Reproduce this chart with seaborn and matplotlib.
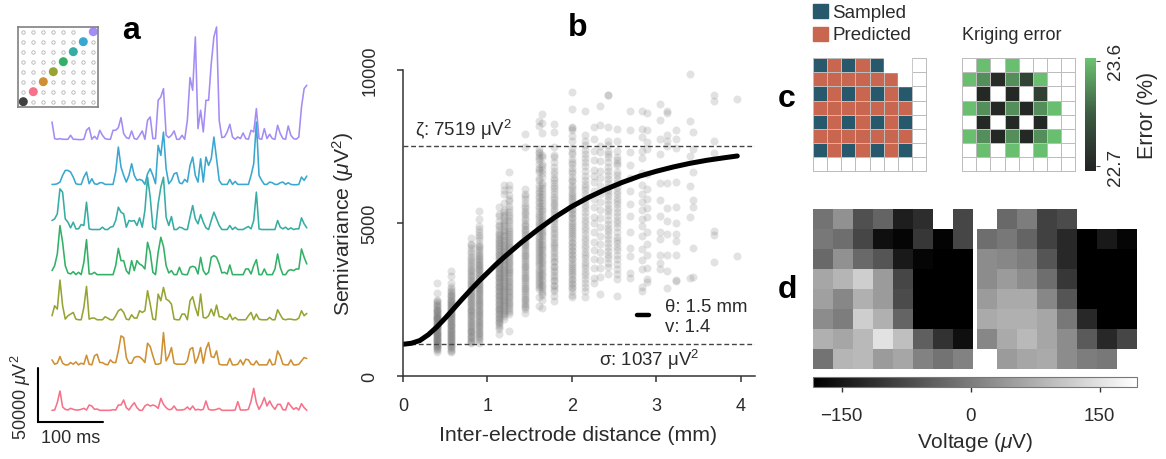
import numpy as np
import pandas as pd
import matplotlib.pyplot as plt
from matplotlib.colors import ListedColormap, LinearSegmentedColormap
from matplotlib.patches import Rectangle
import seaborn as sns

# --- panel a: power traces (one unit = 312.5 uV^2)
trace_unit = 312.5
trace_pink = [2,3,25,60,12,5,3,8,5,3,3,5,8,3,18,15,5,6,2,2,2,2,2,4,3,18,18,33,10,3,15,25,10,2,2,15,20,15,18,15,8,38,20,10,4,5,15,3,3,3,5,12,4,15,3,5,3,5,30,5,3,3,5,8,2,2,2,2,2,3,28,3,3,3,5,30,68,25,5,20,40,15,30,15,5,20,20,4,3,25,15,5,10,3,22,10,2]
trace_orange = [18,5,8,28,8,3,3,10,5,12,3,8,5,32,5,3,30,35,10,10,5,3,18,10,10,45,90,85,25,8,8,25,28,27,20,10,68,58,30,5,5,8,100,15,30,55,8,5,5,5,5,15,50,55,8,25,55,8,50,70,28,25,45,5,3,3,3,22,3,3,5,18,3,20,18,5,3,15,3,3,3,3,20,3,5,45,30,5,3,3,18,3,3,5,15,25,22]
trace_olive = [15,45,35,122,45,5,15,20,25,5,3,3,40,103,5,8,8,3,3,3,12,8,3,3,15,30,35,25,5,3,18,8,8,30,25,30,90,50,5,3,80,60,100,65,60,50,5,3,3,20,20,3,60,72,40,15,80,10,8,15,35,15,47,12,12,5,5,20,3,10,3,3,3,3,15,25,3,20,5,3,3,3,10,3,3,33,18,5,3,5,5,3,3,8,30,15,22]
trace_green = [15,30,65,150,100,30,8,5,12,3,10,3,40,108,5,5,10,3,3,3,3,3,3,3,30,82,45,45,15,5,45,15,45,35,30,20,100,70,10,3,70,115,88,30,8,15,3,3,25,5,3,3,25,28,25,5,55,15,3,10,55,60,55,35,8,10,5,32,3,3,3,3,3,20,20,5,30,48,3,3,20,3,3,3,20,65,25,3,3,15,18,15,20,20,80,55,35]
trace_teal = [30,35,50,125,115,35,25,8,25,5,5,18,15,85,5,3,3,3,3,10,3,3,10,12,30,70,55,50,10,30,28,30,15,38,10,60,160,100,10,3,80,130,160,40,15,42,3,3,10,8,3,3,40,75,35,20,48,25,8,3,30,55,35,15,3,3,3,15,3,10,3,3,3,8,12,5,30,115,5,3,3,3,3,3,3,30,10,5,10,3,8,3,5,5,38,20,8]
trace_blue = [3,3,5,10,30,45,45,40,25,5,3,3,25,40,5,20,5,3,8,8,3,3,3,3,40,115,55,30,10,30,65,30,15,18,15,3,35,50,30,5,120,90,160,50,5,15,35,38,8,5,18,10,60,85,30,10,80,10,85,60,80,145,80,15,3,3,3,18,3,12,3,3,3,3,3,30,65,190,30,15,3,3,10,8,3,3,8,10,3,8,3,2,2,3,25,15,28]
trace_purple = [55,5,3,5,3,3,3,15,3,3,2,2,3,30,38,3,12,3,30,15,5,3,3,30,30,38,68,20,8,5,28,5,3,15,28,3,60,70,5,5,120,130,155,15,8,15,28,3,3,15,3,60,188,150,310,35,90,25,120,120,230,310,340,60,8,10,25,48,10,3,10,5,22,5,3,30,25,95,5,3,35,5,18,5,3,45,20,5,3,43,15,5,3,10,100,155,165]
trace_span_ms = 392

# --- panel b: variogram cloud, one list of semivariances per electrode distance
cloud_dist = [0.40,0.57,0.81,0.90,1.14,1.20,1.26,1.44,1.61,1.65,1.79,2.00,2.16,2.26,2.33,2.43,2.54,2.69,2.83,2.89,3.04,3.13,3.23,3.40,3.44,3.68,3.96,
              2.00,1.79,1.65,1.61,1.44,1.26,1.20,1.14,0.90,0.81,0.57,0.40,2.54,2.43,2.16]
cloud_vals = [
    [3050,2700,2480,2420,2350,2280,2200,2130,2060,2000,1940,1880,1820,1770,1710,1650,1590,1530,1480,1420,1370,1310,1250,1190,1130,1080,1010,960,880,800,2150,1900,1600,1350,1200,1020],
    [3430,3280,3030,2830,2740,2650,2570,2490,2420,2360,2290,2210,2150,2080,2010,1950,1880,1810,1750,1680,1620,1550,1480,1410,1350,1290,1220,1160,1090,1020,950,860,780],
    [4520,4280,4100,3920,3780,3650,3540,3420,3310,3210,3090,3000,2900,2810,2700,2620,2530,2430,2350,2240,2170,2080,1990,1900,1810,1730,1640,1550,1470,1390,1310,1240,1150,1090],
    [5400,5120,4900,4720,4530,4330,4200,4080,3960,3870,3770,3670,3580,3490,3400,3300,3210,3120,3020,2930,2850,2760,2670,2580,2490,2400,2310,2220,2130,2040,1950,1860,1770,1680,1590,1500,1410,1320,1200,1090],
    [5510,5280,5070,4890,4710,4600,4480,4390,4280,4190,4090,4000,3910,3810,3720,3630,3540,3450,3370,3280,3200,3110,3030,2950,2860,2780,2690,2610,2530,2440,2360,2270,2190,2110,2030,1940,1850,1760,1670,1550,1360],
    [6240,6090,5640,5440,5270,5100,4960,4820,4690,4560,4430,4320,4210,4100,3990,3890,3780,3670,3560,3460,3350,3250,3140,3040,2940,2840,2730,2630,2530,2430,2330,2230,2120,2010,1870],
    [6670,6240,6110,5900,5720,5540,5360,5190,5020,4850,4700,4580,4450,4330,4200,4080,3960,3850,3730,3620,3510,3400,3290,3180,3060,2950,2840,2730,2620,2510,2400,2290,2160,2010,1470],
    [7920,7490,6110,5940,5790,5640,5480,5320,5170,5010,4890,4760,4640,4510,4390,4270,4150,4030,3910,3790,3670,3550,3430,3310,3190,3070,2950,2830,2710,2590,2470,2350,2240,2070],
    [8330,8160,7430,7290,7180,7050,6930,6800,6670,6400,6150,5980,5810,5650,5490,5310,5170,5000,4870,4730,4590,4450,4320,4180,4050,3920,3780,3650,3510,3380,3240,3100,2970,2830,2580,2300],
    [8570,8270,7950,7160,6920,6630,6320,6130,5950,5760,5540,5380,5190,5030,4860,4710,4560,4400,4250,4110,3970,3800,3650,3490,3340,3180,3020,2860,2710,2480,2230],
    [8230,7990,7470,7230,6990,6820,6480,6300,6150,5950,5780,5620,5470,5280,5120,4960,4800,4630,4470,4330,4190,4030,3870,3710,3550,3400,3240,3090,2930,2790,2620,2450],
    [9270,8710,8140,8050,7850,7670,7440,7250,7090,6940,6790,6640,6500,6370,6230,6100,5960,5830,5690,5550,5420,5280,5150,5010,4880,4750,4610,4480,4340,4210,4080,3940,3810,3670,3540,3400,3270,3130,3000,2860,2650,2570],
    [8650,7880,7680,7380,7120,6850,6540,6280,6070,5830,5600,5350,5110,4880,4640,4410,4170,3950,3730,3520,3300,3050,2790,2580],
    [8150,7760,7350,7050,6740,6550,6330,6050,5800,5520,5210,4990,4690,4380,4110,3830,3530,3210,3050],
    [8820,8190,7530,7310,7020,6710,6480,6210,5950,5690,5440,5150,4880,4590,4320,4050,3790,3520,3220,2670],
    [9190,9180,8140,7670,7360,7150,6820,6580,6300,6080,5870,5610,5390,5100,4850,4620,4360,4090,3840,3550,3330],
    [8060,7680,7350,7050,6890,6570,6310,6060,5830,5610,5360,5110,4860,4550,4340,4120,3820,3490,3180,2600],
    [8670,8050,7330,6880,6460,6030,5620,5240,4700,4170,3930,3370,3210],
    [8650,8060,7810,7350,7120,6620,6250,5950,5690,5430,5140,4890,4560,4150,3790,3490,2910,2770],
    [8580,8050,7660,7410,6610,6110,5800,5490,5200,4720,4300,3950,3520,3170,3080],
    [8900,8380,7750,7250,6310,5760,5240,4700,4490,3950,3680,3490],
    [8650,8580,7880,7690,7530,6320,5490,5080,4650,3960,3440,2880],
    [8050,7750,7440,6340,5530,5000,4630,4420,3970,3150,3090],
    [9870,8320,7200,6220,5200,3210],
    [7980,7430,6660,5750,5520,4190,3240],
    [9180,9000,7670,7290,4740,4610,3720],
    [9060,3920],
    [8100,7320,6980,6710,6420,6180,6020,5880,5740,5600,5470,5330,5200,5060,4930,4800,4660,4530,4390,4260,4120,3990,3850,3720,3590,3460,3320,3180,3050,2920,2780],
    [7150,6710,6590,6400,6200,6030,5860,5700,5540,5380,5200,5050,4880,4720,4550,4390,4240,4080,3920,3760,3600,3450,3290,3140,2980,2830],
    [7220,6850,6720,6500,6240,6040,5850,5660,5450,5290,5110,4950,4780,4630,4480,4320,4170,4030,3890,3720,3570,3410,3260,3100,2940,2780,2640],
    [7330,7110,6720,6480,6230,6060,5890,5730,5560,5400,5240,5080,4940,4800,4660,4520,4380,4250,4110,3980,3850,3710,3580,3440,3310,3170,3030,2900],
    [5880,5560,5400,5250,5100,4950,4820,4700,4570,4450,4330,4210,4090,3970,3850,3730,3610,3490,3370,3250,3130,3010,2890,2770,2650,2530,2410,2300,2190],
    [5800,5450,5270,5100,4930,4780,4640,4510,4390,4260,4140,4020,3910,3790,3680,3570,3460,3350,3240,3120,3010,2900,2790,2680,2570,2460,2350,2220,2090],
    [5950,5350,5180,5030,4890,4750,4620,4490,4370,4260,4150,4050,3940,3830,3730,3620,3510,3410,3300,3190,3090,2990,2890,2780,2680,2580,2480,2380,2280,2170,2060,1950],
    [5220,4950,4800,4650,4540,4440,4340,4240,4140,4050,3960,3860,3770,3680,3590,3500,3410,3330,3240,3160,3070,2990,2900,2820,2730,2650,2570,2480,2400,2310,2230,2150,2070,1980,1890,1800,1720,1610],
    [4800,4620,4430,4260,4140,4020,3920,3820,3720,3630,3540,3450,3350,3260,3170,3070,2980,2890,2800,2710,2620,2530,2440,2350,2260,2170,2080,1990,1900,1810,1720,1630,1540,1450,1360,1260,1170],
    [4320,4180,4010,3850,3710,3600,3480,3370,3260,3150,3040,2950,2850,2760,2660,2570,2480,2390,2290,2200,2120,2030,1950,1860,1770,1680,1590,1510,1430,1350,1270,1190,1120],
    [2900,2780,2690,2610,2530,2450,2390,2320,2250,2180,2110,2040,1980,1910,1850,1780,1710,1650,1580,1510,1450,1380,1320,1250,1190,1120,1050,980,900,820],
    [2440,2310,2240,2170,2100,2030,1970,1910,1850,1790,1740,1680,1620,1560,1500,1450,1390,1340,1280,1220,1160,1100,1050,980,920,840],
    [7150,6950,6680,6450,6180,5950,5720,5490,5240,4990,4710,4440,4230,3970,3660,3340],
    [7550,7240,6980,6700,6440,6190,5970,5740,5500,5250,4980,4730,4490,4230,3950,3680],
    [7550,7250,6980,6700,6420,6170,5950,5720,5480,5230,5000,4760,4520,4290,4060,3840,3620,3410,3170,2920],
]
curve_x = [0,0.1,0.2,0.3,0.4,0.5,0.6,0.7,0.8,0.9,1.0,1.1,1.2,1.4,1.6,1.8,2.0,2.2,2.4,2.6,2.8,3.0,3.2,3.4,3.6,3.8,3.96]
curve_y = [1037,1070,1160,1350,1600,1890,2200,2510,2810,3100,3370,3640,3890,4360,4790,5190,5540,5840,6100,6330,6530,6690,6830,6950,7050,7130,7190]
sill = 7519
nugget = 1037

# --- panel c: 0 empty cell, 1 sampled, 2 predicted
sampling_grid = [
    [1,2,1,2,1,0,0,0],
    [2,2,2,2,2,2,0,0],
    [1,2,1,2,1,2,1,0],
    [2,2,2,2,2,2,2,0],
    [1,2,1,2,1,2,1,0],
    [2,2,2,2,2,2,2,0],
    [1,2,1,2,1,2,1,0],
    [0,0,0,0,0,0,0,0],
]
n = np.nan
kriging_error = [
    [n,23.6,n,23.6,n,n,n,n],
    [23.6,23.38,22.75,23.38,22.95,23.6,n,n],
    [n,22.72,n,22.72,n,22.92,n,n],
    [23.6,23.38,22.72,23.38,22.72,23.38,23.6,n],
    [n,22.72,n,22.72,n,22.72,n,n],
    [23.6,23.38,22.72,23.38,22.72,23.38,23.6,n],
    [n,23.6,n,23.6,n,23.6,n,n],
    [n,n,n,n,n,n,n,n],
]

# --- panel d: voltage per electrode
voltage_left = [
    [-13,31,-65,-35,-138,-116,n,-79],
    [-6,-20,-79,-160,-175,-101,-178,-79],
    [-28,31,-28,-57,-146,-175,-183,-183],
    [61,83,120,46,-79,-183,-183,-183],
    [53,16,76,46,-72,-183,-183,-183],
    [24,2,120,76,-35,-183,-183,-183],
    [76,61,90,149,98,-43,-109,-160],
    [-13,83,90,46,61,9,-13,9],
]
voltage_right = [
    [n,-28,2,-87,-72,n,n,n],
    [-20,-6,-35,-87,-124,-183,-146,-175],
    [24,16,2,-57,-124,-183,-183,-183],
    [24,46,24,-20,-101,-183,-183,-183],
    [46,68,68,16,-57,-183,-183,-183],
    [68,76,76,61,-6,-124,-183,-183],
    [16,68,90,61,24,-50,-124,-79],
    [n,46,61,68,24,2,-6,n],
]

sns.set_theme(style='white')
plt.rcParams['font.family'] = ['Liberation Sans', 'DejaVu Sans']
plt.rcParams['mathtext.fontset'] = 'custom'
plt.rcParams['mathtext.rm'] = 'Liberation Sans'
plt.rcParams['mathtext.it'] = 'Liberation Sans:italic'
plt.rcParams['mathtext.default'] = 'it'

W, H = 1166, 460
ink = '#2b2b2b'
sampled_color, predicted_color = '#27586c', '#c9664f'
fig = plt.figure(figsize=(W / 100, H / 100), dpi=100)

def box(x0, y0, x1, y1):
    # pixel box of the picture (y going down) to figure fractions
    return [x0 / W, 1 - y1 / H, (x1 - x0) / W, (y1 - y0) / H]

def label(x, y, s, **kw):
    kw.setdefault('color', ink)
    kw.setdefault('fontsize', 13.5)
    kw.setdefault('ha', 'center')
    kw.setdefault('va', 'center')
    fig.text(x / W, 1 - y / H, s, **kw)

for x, y, s in [(131, 31, 'a'), (578, 28, 'b'), (787, 99, 'c'), (787, 290, 'd')]:
    label(x, y, s, fontsize=23, fontweight='bold', color='black')

# --- panel a
palette = sns.color_palette('husl', 8)[:7]
traces = [trace_pink, trace_orange, trace_olive, trace_green, trace_teal, trace_blue, trace_purple]
px_ms, px_uv = 0.65, 937.5
ax_a = fig.add_axes(box(10, 0, 320, 460))
ax_a.set_xlim(-42 / px_ms, 268 / px_ms)
ax_a.set_ylim(-48 * px_uv, 412 * px_uv)
ax_a.axis('off')
time_ms = np.linspace(0, trace_span_ms, len(trace_pink))
for i in range(6, -1, -1):
    y = np.array(traces[i]) * trace_unit + i * 42300
    sns.lineplot(x=time_ms, y=y, color=palette[i], lw=1.15, ax=ax_a, errorbar=None, estimator=None)
ax_a.plot([-21, -21, 79], [40000, -10000, -10000], color='black', lw=1.5, solid_joinstyle='miter')
label(71, 439, '100 ms', fontsize=13)
label(21, 397, r'50000 $\mu$V$^2$', fontsize=13, rotation=90)

# electrode layout inset
ax_i = fig.add_axes(box(18, 28, 98, 108))
ax_i.set_facecolor('white')
rows, cols = np.meshgrid(np.arange(8), np.arange(8))
keep = ~((rows.ravel() == 7) & (cols.ravel() == 6))
sns.scatterplot(x=cols.ravel()[keep], y=rows.ravel()[keep], s=6, facecolor='white',
                edgecolor='#b4b4b4', linewidth=0.6, ax=ax_i)
inset_colors = ['#404040'] + list(palette)
sns.scatterplot(x=np.arange(8), y=np.arange(8), hue=np.arange(8), palette=inset_colors,
                s=42, linewidth=0, legend=False, ax=ax_i)
ax_i.set(xlim=(-0.53, 7.47), ylim=(-0.53, 7.47), xticks=[], yticks=[], xlabel='', ylabel='')
for s in ax_i.spines.values():
    s.set_color('#808080')
    s.set_linewidth(1.2)

# --- panel b
cloud = pd.DataFrame({
    'distance': [d for d, v in zip(cloud_dist, cloud_vals) for _ in v],
    'semivariance': [y for v in cloud_vals for y in v],
})
ax_b = fig.add_axes(box(403, 71, 755, 377))
ax_b.set_facecolor('none')
sns.scatterplot(data=cloud, x='distance', y='semivariance', color='#7c7c7c', alpha=0.22,
                s=33, linewidth=0, clip_on=False, ax=ax_b)
ax_b.axhline(sill, color='#444444', lw=1, ls=(0, (3.5, 2)))
ax_b.axhline(nugget, color='#444444', lw=1, ls=(0, (3.5, 2)))
sns.lineplot(x=curve_x, y=curve_y, color='black', lw=3.6, ax=ax_b, errorbar=None, estimator=None,
             solid_capstyle='round')
ax_b.set_xlim(0, 4.17)
ax_b.set_ylim(0, 10000)
ax_b.set_xticks([0, 1, 2, 3, 4])
ax_b.set_yticks([0, 5000, 10000])
ax_b.tick_params(length=4.5, width=1.1, color='#333333', labelcolor=ink, labelsize=13, bottom=True, left=True)
ax_b.tick_params(axis='x', pad=10.5)
ax_b.tick_params(axis='y', pad=13)
plt.setp(ax_b.get_yticklabels(), rotation=90, va='center')
ax_b.set_xlabel('Inter-electrode distance (mm)', fontsize=15.3, color=ink, va='center')
ax_b.set_ylabel(r'Semivariance ($\mu$V$^2$)', fontsize=15.3, color=ink, va='center')
ax_b.xaxis.set_label_coords(0.497, -0.19)
ax_b.yaxis.set_label_coords(-0.17, 0.5)
sns.despine(ax=ax_b)
for s in ['left', 'bottom']:
    ax_b.spines[s].set_color('#333333')
    ax_b.spines[s].set_linewidth(1.1)
ax_b.plot([2.77, 2.91], [1990, 1990], color='black', lw=3.2, solid_capstyle='round')
label(415, 130, 'ζ: 7519 μV$^2$', fontsize=13.4, ha='left')
label(599, 360, 'σ: 1037 μV$^2$', fontsize=13.4, ha='left')
label(665, 307, 'θ: 1.5 mm', fontsize=13.4, ha='left')
label(665, 327, 'v: 1.4', fontsize=13.4, ha='left')

# --- panel c
ax_c = fig.add_axes(box(813.3, 59.3, 925.7, 172))
sns.heatmap(np.array(sampling_grid), cmap=ListedColormap(['white', sampled_color, predicted_color]), vmin=0, vmax=2,
            cbar=False, linewidths=0.45, linecolor='#bdbdbd', ax=ax_c,
            xticklabels=False, yticklabels=False)
ax_c.collections[0].set_clip_on(False)
# these corner cells have no outline in the layout
ax_c.add_patch(Rectangle((5.05, -0.15), 1.9, 1.12, color='white', clip_on=False, zorder=5))
ax_c.add_patch(Rectangle((6.05, 0.9), 0.9, 1.05, color='white', clip_on=False, zorder=5))

for y, color, s in [(5, sampled_color, 'Sampled'), (28, predicted_color, 'Predicted')]:
    fig.add_artist(Rectangle((813 / W, 1 - (y + 13.5) / H), 15 / W, 13.5 / H, color=color, transform=fig.transFigure))
    label(832.5, y + 8, s, ha='left', fontsize=13.5)
label(962, 36, 'Kriging error', ha='left', fontsize=13)

ax_e = fig.add_axes(box(962.3, 59.3, 1075, 172))
ax_ec = fig.add_axes(box(1085, 59.3, 1096, 172))
error_cmap = LinearSegmentedColormap.from_list('err', ['#222222', '#3c5a42', '#6cc272'])
sns.heatmap(np.array(kriging_error), cmap=error_cmap, vmin=22.66, vmax=23.62, linewidths=0.45,
            linecolor='#bdbdbd', ax=ax_e, cbar_ax=ax_ec, xticklabels=False, yticklabels=False,
            cbar_kws={'ticks': [22.7, 23.6]})
ax_e.collections[0].set_clip_on(False)
ax_ec.tick_params(length=3, width=0.8, color='#555555', labelsize=13.7, labelcolor=ink, pad=5)
ax_ec.set_yticklabels(['22.7', '23.6'], rotation=90, va='center')
ax_e.collections[0].colorbar.outline.set_visible(False)
label(1148, 115, 'Error (%)', rotation=90, fontsize=15.5)

# --- panel d
volt_cmap = 'gray'
ax_d1 = fig.add_axes(box(813.3, 210.3, 973, 370))
ax_d2 = fig.add_axes(box(977, 210.3, 1136.7, 370))
ax_dc = fig.add_axes(box(813.3, 378, 1136.7, 388))
sns.heatmap(np.array(voltage_left), cmap=volt_cmap, vmin=-183, vmax=193, cbar=False, ax=ax_d1,
            xticklabels=False, yticklabels=False)
sns.heatmap(np.array(voltage_right), cmap=volt_cmap, vmin=-183, vmax=193, ax=ax_d2, cbar_ax=ax_dc,
            xticklabels=False, yticklabels=False,
            cbar_kws={'orientation': 'horizontal', 'ticks': [-150, 0, 150]})
ax_dc.set_xticklabels(['\u2212150', '0', '150'])
ax_dc.tick_params(length=3.5, width=1, color='#333333', labelsize=13.5, labelcolor=ink, pad=11)
cb = ax_d2.collections[0].colorbar
cb.outline.set_edgecolor('#777777')
cb.outline.set_linewidth(0.8)
label(975, 443, r'Voltage ($\mu$V)', fontsize=15)

fig.savefig('out.png', dpi=100)
